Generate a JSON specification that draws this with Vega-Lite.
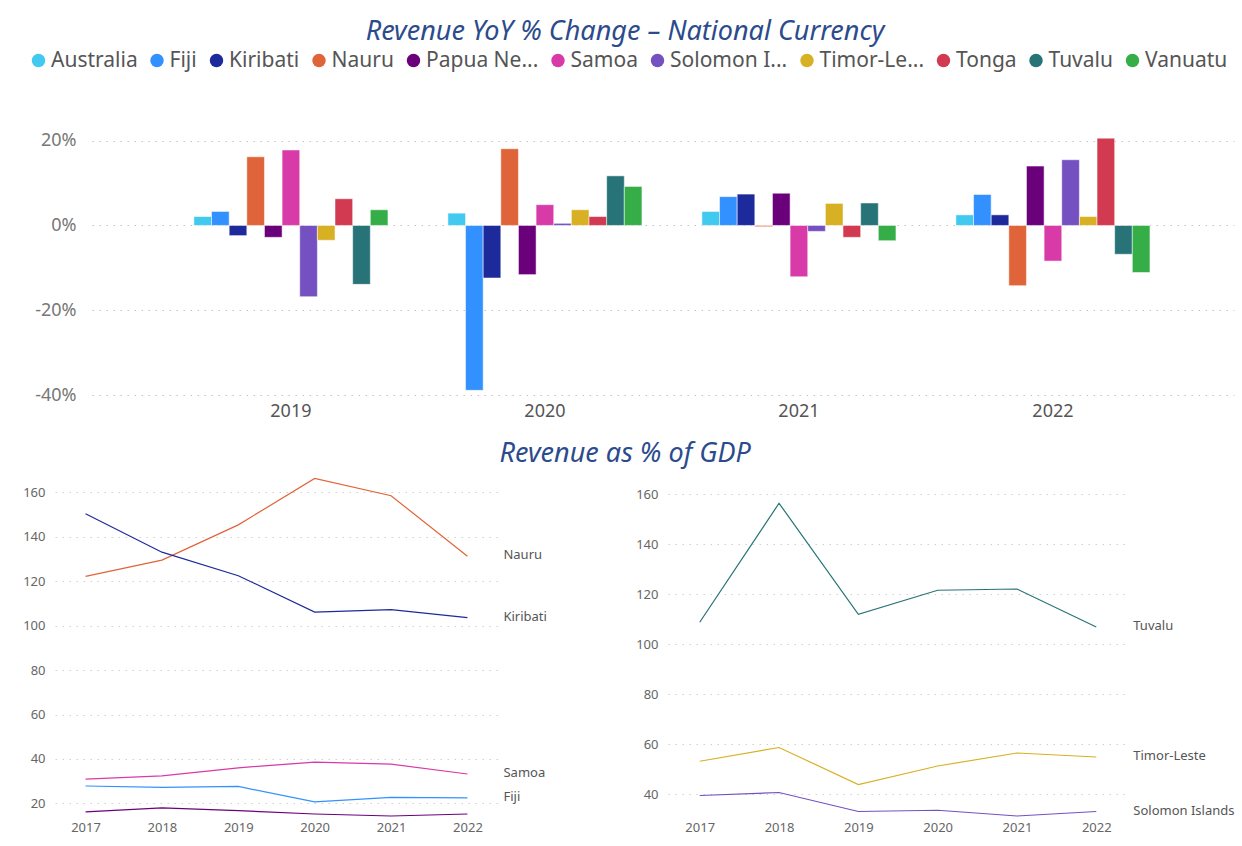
{
  "$schema": "https://vega.github.io/schema/vega-lite/v6.json",
  "background": "white",
  "padding": {"left": 20, "top": 18, "right": 4, "bottom": 0},
  "config": {
    "font": "Noto Sans",
    "view": {"stroke": null},
    "axis": {"titleFontWeight": "normal"}
  },
  "datasets": {
    "yoy": [
      {"year": "2019", "country": "Australia", "value": 2.1},
      {"year": "2019", "country": "Fiji", "value": 3.3},
      {"year": "2019", "country": "Kiribati", "value": -2.4},
      {"year": "2019", "country": "Nauru", "value": 16.2},
      {"year": "2019", "country": "Papua New Guinea", "value": -2.8},
      {"year": "2019", "country": "Samoa", "value": 17.8},
      {"year": "2019", "country": "Solomon Islands", "value": -16.8},
      {"year": "2019", "country": "Timor-Leste", "value": -3.5},
      {"year": "2019", "country": "Tonga", "value": 6.3},
      {"year": "2019", "country": "Tuvalu", "value": -13.9},
      {"year": "2019", "country": "Vanuatu", "value": 3.7},
      {"year": "2020", "country": "Australia", "value": 2.9},
      {"year": "2020", "country": "Fiji", "value": -38.9},
      {"year": "2020", "country": "Kiribati", "value": -12.4},
      {"year": "2020", "country": "Nauru", "value": 18.1},
      {"year": "2020", "country": "Papua New Guinea", "value": -11.6},
      {"year": "2020", "country": "Samoa", "value": 4.9},
      {"year": "2020", "country": "Solomon Islands", "value": 0.5},
      {"year": "2020", "country": "Timor-Leste", "value": 3.7},
      {"year": "2020", "country": "Tonga", "value": 2.1},
      {"year": "2020", "country": "Tuvalu", "value": 11.7},
      {"year": "2020", "country": "Vanuatu", "value": 9.2},
      {"year": "2021", "country": "Australia", "value": 3.3},
      {"year": "2021", "country": "Fiji", "value": 6.8},
      {"year": "2021", "country": "Kiribati", "value": 7.4},
      {"year": "2021", "country": "Nauru", "value": -0.3},
      {"year": "2021", "country": "Papua New Guinea", "value": 7.6},
      {"year": "2021", "country": "Samoa", "value": -12.1},
      {"year": "2021", "country": "Solomon Islands", "value": -1.4},
      {"year": "2021", "country": "Timor-Leste", "value": 5.2},
      {"year": "2021", "country": "Tonga", "value": -2.8},
      {"year": "2021", "country": "Tuvalu", "value": 5.3},
      {"year": "2021", "country": "Vanuatu", "value": -3.6},
      {"year": "2022", "country": "Australia", "value": 2.5},
      {"year": "2022", "country": "Fiji", "value": 7.3},
      {"year": "2022", "country": "Kiribati", "value": 2.5},
      {"year": "2022", "country": "Nauru", "value": -14.2},
      {"year": "2022", "country": "Papua New Guinea", "value": 14.0},
      {"year": "2022", "country": "Samoa", "value": -8.4},
      {"year": "2022", "country": "Solomon Islands", "value": 15.5},
      {"year": "2022", "country": "Timor-Leste", "value": 2.1},
      {"year": "2022", "country": "Tonga", "value": 20.6},
      {"year": "2022", "country": "Tuvalu", "value": -6.8},
      {"year": "2022", "country": "Vanuatu", "value": -11.1}
    ],
    "gdp": [
      {"panel": "L", "country": "Nauru", "year": "2017", "value": 122.2},
      {"panel": "L", "country": "Nauru", "year": "2018", "value": 129.5},
      {"panel": "L", "country": "Nauru", "year": "2019", "value": 145.4},
      {"panel": "L", "country": "Nauru", "year": "2020", "value": 166.3},
      {"panel": "L", "country": "Nauru", "year": "2021", "value": 158.5},
      {"panel": "L", "country": "Nauru", "year": "2022", "value": 131.3},
      {"panel": "L", "country": "Kiribati", "year": "2017", "value": 150.4},
      {"panel": "L", "country": "Kiribati", "year": "2018", "value": 133.1},
      {"panel": "L", "country": "Kiribati", "year": "2019", "value": 122.5},
      {"panel": "L", "country": "Kiribati", "year": "2020", "value": 106.1},
      {"panel": "L", "country": "Kiribati", "year": "2021", "value": 107.2},
      {"panel": "L", "country": "Kiribati", "year": "2022", "value": 103.6},
      {"panel": "L", "country": "Samoa", "year": "2017", "value": 30.9},
      {"panel": "L", "country": "Samoa", "year": "2018", "value": 32.4},
      {"panel": "L", "country": "Samoa", "year": "2019", "value": 36.0},
      {"panel": "L", "country": "Samoa", "year": "2020", "value": 38.6},
      {"panel": "L", "country": "Samoa", "year": "2021", "value": 37.7},
      {"panel": "L", "country": "Samoa", "year": "2022", "value": 33.2},
      {"panel": "L", "country": "Fiji", "year": "2017", "value": 27.8},
      {"panel": "L", "country": "Fiji", "year": "2018", "value": 27.2},
      {"panel": "L", "country": "Fiji", "year": "2019", "value": 27.6},
      {"panel": "L", "country": "Fiji", "year": "2020", "value": 20.7},
      {"panel": "L", "country": "Fiji", "year": "2021", "value": 22.7},
      {"panel": "L", "country": "Fiji", "year": "2022", "value": 22.5},
      {"panel": "L", "country": "Papua New Guinea", "year": "2017", "value": 16.2},
      {"panel": "L", "country": "Papua New Guinea", "year": "2018", "value": 18.0},
      {"panel": "L", "country": "Papua New Guinea", "year": "2019", "value": 16.7},
      {"panel": "L", "country": "Papua New Guinea", "year": "2020", "value": 15.2},
      {"panel": "L", "country": "Papua New Guinea", "year": "2021", "value": 14.3},
      {"panel": "L", "country": "Papua New Guinea", "year": "2022", "value": 15.2},
      {"panel": "R", "country": "Tuvalu", "year": "2017", "value": 108.8},
      {"panel": "R", "country": "Tuvalu", "year": "2018", "value": 156.4},
      {"panel": "R", "country": "Tuvalu", "year": "2019", "value": 112.0},
      {"panel": "R", "country": "Tuvalu", "year": "2020", "value": 121.6},
      {"panel": "R", "country": "Tuvalu", "year": "2021", "value": 122.1},
      {"panel": "R", "country": "Tuvalu", "year": "2022", "value": 106.9},
      {"panel": "R", "country": "Timor-Leste", "year": "2017", "value": 53.2},
      {"panel": "R", "country": "Timor-Leste", "year": "2018", "value": 58.7},
      {"panel": "R", "country": "Timor-Leste", "year": "2019", "value": 43.9},
      {"panel": "R", "country": "Timor-Leste", "year": "2020", "value": 51.3},
      {"panel": "R", "country": "Timor-Leste", "year": "2021", "value": 56.5},
      {"panel": "R", "country": "Timor-Leste", "year": "2022", "value": 54.9},
      {"panel": "R", "country": "Solomon Islands", "year": "2017", "value": 39.5},
      {"panel": "R", "country": "Solomon Islands", "year": "2018", "value": 40.7},
      {"panel": "R", "country": "Solomon Islands", "year": "2019", "value": 33.1},
      {"panel": "R", "country": "Solomon Islands", "year": "2020", "value": 33.6},
      {"panel": "R", "country": "Solomon Islands", "year": "2021", "value": 31.3},
      {"panel": "R", "country": "Solomon Islands", "year": "2022", "value": 33.1}
    ]
  },
  "resolve": {"scale": {"color": "independent"}},
  "spacing": 20,
  "vconcat": [
    {
      "spacing": -28,
      "resolve": {"scale": {"color": "independent"}},
      "hconcat": [
        {
          "width": 1,
          "height": 284,
          "data": {"values": []},
          "mark": {"type": "point", "opacity": 0}
        },
        {
          "title": {"text": "Revenue YoY % Change – National Currency", "fontSize": 27, "fontStyle": "italic", "fontWeight": "normal", "color": "#2B4B8C", "anchor": "middle", "dx": -38, "offset": 4},
          "width": 1142,
          "height": 284,
          "data": {"name": "yoy"},
          "mark": {"type": "bar", "stroke": "white", "strokeWidth": 1, "strokeOpacity": 0.5},
          "encoding": {
            "x": {"field": "year", "type": "nominal", "scale": {"paddingInner": 0.236, "paddingOuter": 0.366, "align": 0.548},
                  "axis": {"title": null, "labelAngle": 0, "labelFontSize": 18, "labelColor": "#555", "ticks": false, "domain": false, "labelPadding": 7}},
            "xOffset": {"field": "country", "type": "nominal", "scale": {"paddingInner": 0, "paddingOuter": 0}},
            "y": {"field": "value", "type": "quantitative", "scale": {"domain": [-40, 27], "nice": false},
                  "axis": {"title": null, "values": [-40, -20, 0, 20], "labelExpr": "datum.value + '%'", "labelFontSize": 18, "labelColor": "#777", "ticks": false, "domain": false, "grid": true, "gridDash": [1.5, 5.5], "gridColor": "#c4c4c4", "labelPadding": 16}},
            "color": {"field": "country", "type": "nominal",
                      "scale": {"domain": ["Australia", "Fiji", "Kiribati", "Nauru", "Papua New Guinea", "Samoa", "Solomon Islands", "Timor-Leste", "Tonga", "Tuvalu", "Vanuatu"],
                                "range": ["#41C9F0", "#3391FF", "#1C2A9B", "#E0643A", "#6B007B", "#D83AA7", "#7450C0", "#D8B024", "#D13A50", "#277377", "#36AE48"]},
                      "legend": {"orient": "none", "legendX": -64, "legendY": -61, "direction": "horizontal", "columns": 11, "gridAlign": "none", "title": null, "symbolType": "circle", "symbolSize": 180, "symbolStrokeWidth": 0, "labelFontSize": 21, "labelColor": "#555", "columnPadding": 8.5, "labelOffset": 2, "labelLimit": 300,
                                 "labelExpr": "datum.label == 'Papua New Guinea' ? 'Papua Ne...' : datum.label == 'Solomon Islands' ? 'Solomon I...' : datum.label == 'Timor-Leste' ? 'Timor-Le...' : datum.label"}}
          }
        }
      ]
    },
    {
      "title": {"text": "Revenue as % of GDP", "fontSize": 27, "fontStyle": "italic", "fontWeight": "normal", "color": "#2B4B8C", "anchor": "middle", "dx": -2, "offset": 8},
      "spacing": 88,
      "hconcat": [
        {
          "width": 443,
          "height": 340,
          "data": {"name": "gdp"},
          "transform": [{"filter": "datum.panel == 'L'"}],
          "encoding": {
            "x": {"field": "year", "type": "ordinal", "scale": {"type": "point", "padding": 0.4},
                  "axis": {"title": null, "labelAngle": 0, "labelFontSize": 13, "labelColor": "#666", "ticks": false, "domain": false, "labelPadding": 3}},
            "y": {"field": "value", "type": "quantitative", "scale": {"domain": [13.4, 166.5], "nice": false, "zero": false},
                  "axis": {"title": null, "values": [20, 40, 60, 80, 100, 120, 140, 160], "labelFontSize": 13, "labelColor": "#666", "ticks": false, "domain": false, "grid": true, "gridDash": [1.5, 5.5], "gridColor": "#d0d0d0", "labelPadding": 10, "minExtent": 35, "maxExtent": 35}},
            "color": {"field": "country", "type": "nominal",
                      "scale": {"domain": ["Australia", "Fiji", "Kiribati", "Nauru", "Papua New Guinea", "Samoa", "Solomon Islands", "Timor-Leste", "Tonga", "Tuvalu", "Vanuatu"],
                                "range": ["#41C9F0", "#3391FF", "#1C2A9B", "#E0643A", "#6B007B", "#D83AA7", "#7450C0", "#D8B024", "#D13A50", "#277377", "#36AE48"]},
                      "legend": null}
          },
          "layer": [
            {"mark": {"type": "line", "strokeWidth": 1.2}},
            {"transform": [{"filter": "datum.year == '2022' && datum.country != 'Papua New Guinea'"}],
             "mark": {"type": "text", "align": "left", "baseline": "middle", "dx": 36, "dy": -1, "fontSize": 13},
             "encoding": {"text": {"field": "country"}, "color": {"value": "#555"}}}
          ]
        },
        {
          "width": 460,
          "height": 340,
          "data": {"name": "gdp"},
          "transform": [{"filter": "datum.panel == 'R'"}],
          "encoding": {
            "x": {"field": "year", "type": "ordinal", "scale": {"type": "point", "padding": 0.4},
                  "axis": {"title": null, "labelAngle": 0, "labelFontSize": 13, "labelColor": "#666", "ticks": false, "domain": false, "labelPadding": 3}},
            "y": {"field": "value", "type": "quantitative", "scale": {"domain": [30.5, 166.5], "nice": false, "zero": false},
                  "axis": {"title": null, "values": [40, 60, 80, 100, 120, 140, 160], "labelFontSize": 13, "labelColor": "#666", "ticks": false, "domain": false, "grid": true, "gridDash": [1.5, 5.5], "gridColor": "#d0d0d0", "labelPadding": 10, "minExtent": 32, "maxExtent": 32}},
            "color": {"field": "country", "type": "nominal",
                      "scale": {"domain": ["Australia", "Fiji", "Kiribati", "Nauru", "Papua New Guinea", "Samoa", "Solomon Islands", "Timor-Leste", "Tonga", "Tuvalu", "Vanuatu"],
                                "range": ["#41C9F0", "#3391FF", "#1C2A9B", "#E0643A", "#6B007B", "#D83AA7", "#7450C0", "#D8B024", "#D13A50", "#277377", "#36AE48"]},
                      "legend": null}
          },
          "layer": [
            {"mark": {"type": "line", "strokeWidth": 1.2}},
            {"transform": [{"filter": "datum.year == '2022'"}],
             "mark": {"type": "text", "align": "left", "baseline": "middle", "dx": 37, "dy": -1, "fontSize": 13},
             "encoding": {"text": {"field": "country"}, "color": {"value": "#555"}}}
          ]
        }
      ]
    }
  ]
}
